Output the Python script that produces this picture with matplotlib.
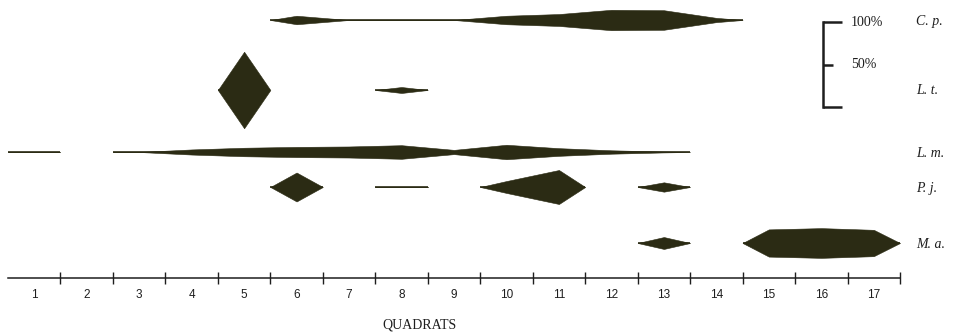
import numpy as np
import matplotlib
matplotlib.use('Agg')
import matplotlib.pyplot as plt

nan = np.nan

# ---------------- data ----------------
quadrats = list(range(1, 18))
quadrat_labels = [str(q) for q in quadrats]
species = ['C. p.', 'L. t.', 'L. m.', 'P. j.', 'M. a.']
# percent cover per quadrat (nan = absent, 0 = present as trace line)
cp = [nan, nan, nan, nan, nan, 10, 0, 0, 0, 10, 14, 24, 23, 5, nan, nan, nan]
lt = [nan, nan, nan, nan, 90, nan, nan, 7, nan, nan, nan, nan, nan, nan, nan, nan, nan]
lm = [0, nan, 0, 6, 10, 12, 13, 16, 5, 17, 9, 4, 1, nan, nan, nan, nan]
pj = [nan, nan, nan, nan, nan, 34, nan, 0, nan, 14, 40, nan, 11, nan, nan, nan, nan]
ma = [nan, nan, nan, nan, nan, nan, nan, nan, nan, nan, nan, nan, 14, nan, 32, 35, 31]
series = [cp, lt, lm, pj, ma]
scale_values = [0, 50, 100]
scale_labels = ['', '50%', '100%']
axis_title = 'QUADRATS'

# ---------------- layout ----------------
W, H = 965, 333
X0_PX = 8.0
PX_PER_Q = 892.0 / 17
PX_PER_PCT = 0.85

def qx(px):
    return (px - X0_PX) / PX_PER_Q

def py(px):
    return px / PX_PER_PCT

INK = '#2b2b14'
TXT = '#1e1e1e'
row_px = [20, 90, 152, 187, 243]

fig = plt.figure(figsize=(W / 100, H / 100), dpi=100)
fig.patch.set_facecolor('white')
ax = fig.add_axes([0, 0, 1, 1])
ax.set_xlim(qx(0), qx(W))
ax.set_ylim(py(H), 0)
ax.axis('off')

# ---------------- kites ----------------
for vals, ypx in zip(series, row_px):
    yc = py(ypx)
    v = np.array(vals, dtype=float)
    present = ~np.isnan(v)
    i = 0
    n = len(v)
    while i < n:
        if not present[i]:
            i += 1
            continue
        j = i
        while j + 1 < n and present[j + 1]:
            j += 1
        xs = [i] + [k + 0.5 for k in range(i, j + 1)] + [j + 1]
        hw = [0] + [v[k] / 2 for k in range(i, j + 1)] + [0]
        xs = np.array(xs, dtype=float)
        hw = np.array(hw, dtype=float)
        ax.plot([i, j + 1], [yc, yc], color=INK, lw=1.2, solid_capstyle='butt')
        ax.fill_between(xs, yc - hw, yc + hw, color=INK, lw=0.4, edgecolor=INK)
        i = j + 1

# ---------------- quadrat axis ----------------
axis_y = py(278)
ax.plot([0, 17], [axis_y, axis_y], color=TXT, lw=1.1)
ax.vlines(quadrats, py(272), py(284), color=TXT, lw=1.0)
for q, lab in zip(quadrats, quadrat_labels):
    ax.text(q - 0.5, py(295), lab, ha='center', va='center', fontsize=8.5,
            family='Liberation Sans', color=TXT)
ax.text(qx(419), py(325), axis_title, ha='center', va='center', fontsize=10,
        family='Liberation Serif', color=TXT)

# ---------------- species labels ----------------
for name, ypx in zip(species, row_px):
    ax.text(qx(916), py(ypx + 1), name, ha='left', va='center', fontsize=10,
            family='Liberation Serif', style='italic', color=TXT)

# ---------------- scale bar ----------------
bar_x = qx(823)
base = py(107)
ax.plot([bar_x, bar_x], [base - scale_values[0], base - scale_values[-1]],
        color=TXT, lw=1.8, solid_capstyle='projecting')
for val, lab in zip(scale_values, scale_labels):
    right = qx(842) if val in (scale_values[0], scale_values[-1]) else qx(833)
    ax.plot([bar_x, right], [base - val, base - val], color=TXT, lw=1.8,
            solid_capstyle='butt')
    if lab:
        ax.text(qx(851), base - val, lab, ha='left', va='center', fontsize=10,
                family='Liberation Serif', color=TXT)

fig.savefig('out.png', dpi=100, facecolor='white')
